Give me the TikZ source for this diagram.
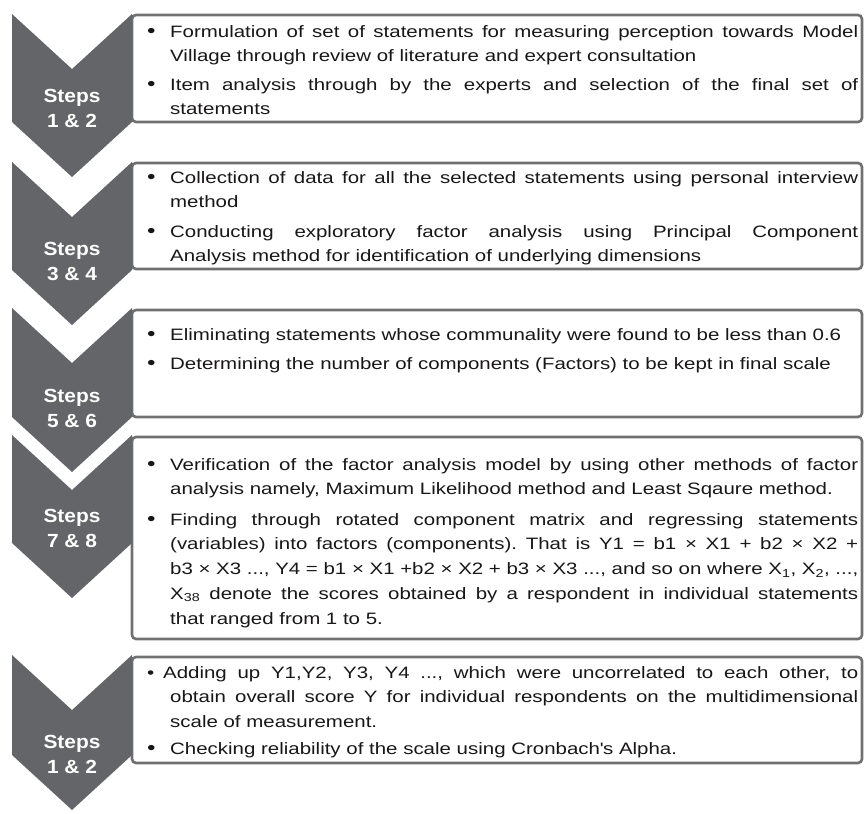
\documentclass[tikz,border=0pt]{standalone}
\usepackage{fontspec}
\setmainfont{Liberation Sans}[FakeStretch=1.24]
\newfontfamily\stepfont{Liberation Sans}[FakeStretch=1.1]
\definecolor{chev}{RGB}{100,101,104}
\definecolor{boxline}{RGB}{112,112,115}
\definecolor{txt}{RGB}{25,22,23}
\frenchspacing
\newcommand{\bigbul}{\raisebox{-0.8pt}{\fontsize{19.5}{19.5}\selectfont •}}
\newcommand{\bul}[1]{\makebox[23pt][l]{\bigbul}\parbox[t]{688pt}{#1}}
\newcommand{\bulsmall}[1]{\makebox[23pt][l]{•}\parbox[t]{688pt}{#1}}
\tikzset{
  stepbox/.style={draw=boxline, line width=2.6pt, rounded corners=4pt},
  chevron/.style={fill=chev, draw=none},
  item/.style={anchor=base west, inner sep=0pt, font=\fontsize{16.5}{24.8}\selectfont, text=txt},
  steplabel/.style={anchor=base, inner sep=0pt, text=white, font=\stepfont\bfseries\fontsize{19}{25}\selectfont},
}
\begin{document}
\begin{tikzpicture}[x=1pt,y=-1pt]
\useasboundingbox (0,0) rectangle (865,814);
% boxes
\draw[stepbox] (132,15) rectangle (862,122);
\draw[stepbox] (132,163) rectangle (862,269);
\draw[stepbox] (132,310) rectangle (862,417);
\draw[stepbox] (132,437) rectangle (862,639);
\draw[stepbox] (132,657) rectangle (862,763);
% chevrons
\fill[chevron] (12,14) -- (72,69) -- (132,14) -- (132,122) -- (72,177) -- (12,122) -- cycle;
\fill[chevron] (12,162) -- (72,217) -- (132,162) -- (132,270) -- (72,325) -- (12,270) -- cycle;
\fill[chevron] (12,308) -- (72,363) -- (132,308) -- (132,417) -- (72,472) -- (12,417) -- cycle;
\fill[chevron] (12,435) -- (72,490) -- (132,435) -- (132,543) -- (72,598) -- (12,543) -- cycle;
\fill[chevron] (12,655) -- (72,710) -- (132,655) -- (132,755) -- (72,810) -- (12,755) -- cycle;
% step labels
\node[steplabel] (s1) at (72,102) {\begin{tabular}[t]{@{}c@{}}Steps\\1 \& 2\end{tabular}};
\node[steplabel] (s2) at (72,255) {\begin{tabular}[t]{@{}c@{}}Steps\\3 \& 4\end{tabular}};
\node[steplabel] (s3) at (72,402) {\begin{tabular}[t]{@{}c@{}}Steps\\5 \& 6\end{tabular}};
\node[steplabel] (s4) at (72,522) {\begin{tabular}[t]{@{}c@{}}Steps\\7 \& 8\end{tabular}};
\node[steplabel] (s5) at (72,748) {\begin{tabular}[t]{@{}c@{}}Steps\\1 \& 2\end{tabular}};
% box 1
\node[item] (a1) at (147,37) {\bul{Formulation of set of statements for measuring perception towards Model\linebreak Village through review of literature and expert consultation}};
\node[item] (a2) at (147,90) {\bul{Item analysis through by the experts and selection of the final set of\linebreak statements}};
% box 2
\node[item] (b1) at (147,183) {\bul{Collection of data for all the selected statements using personal interview\linebreak method}};
\node[item] (b2) at (147,237) {\bul{Conducting exploratory factor analysis using Principal Component\linebreak Analysis method for identification of underlying dimensions}};
% box 3
\node[item] (c1) at (147,340) {\bul{Eliminating statements whose communality were found to be less than 0.6}};
\node[item] (c2) at (147,369) {\bul{Determining the number of components (Factors) to be kept in final scale}};
% box 4
\node[item] (d1) at (147,470) {\bul{Verification of the factor analysis model by using other methods of factor\linebreak analysis namely, Maximum Likelihood method and Least Sqaure method.}};
\node[item] (d2) at (147,525) {\bul{Finding through rotated component matrix and regressing statements\linebreak (variables) into factors (components). That is Y1 = b1 × X1 + b2 × X2 +\linebreak b3 × X3 ..., Y4 = b1 × X1 +b2 × X2 + b3 × X3 ..., and so on where X\textsubscript{1}, X\textsubscript{2}, ...,\linebreak X\textsubscript{38} denote the scores obtained by a respondent in individual statements\linebreak that ranged from 1 to 5.}};
% box 5
\node[item] (e1) at (147,678) {\bulsmall{\hspace*{-7pt}Adding up Y1,Y2, Y3, Y4 ..., which were uncorrelated to each other, to\linebreak obtain overall score Y for individual respondents on the multidimensional\linebreak scale of measurement.}};
\node[item] (e2) at (147,754) {\bul{Checking reliability of the scale using Cronbach\textquotesingle s Alpha.}};
\end{tikzpicture}
\end{document}
